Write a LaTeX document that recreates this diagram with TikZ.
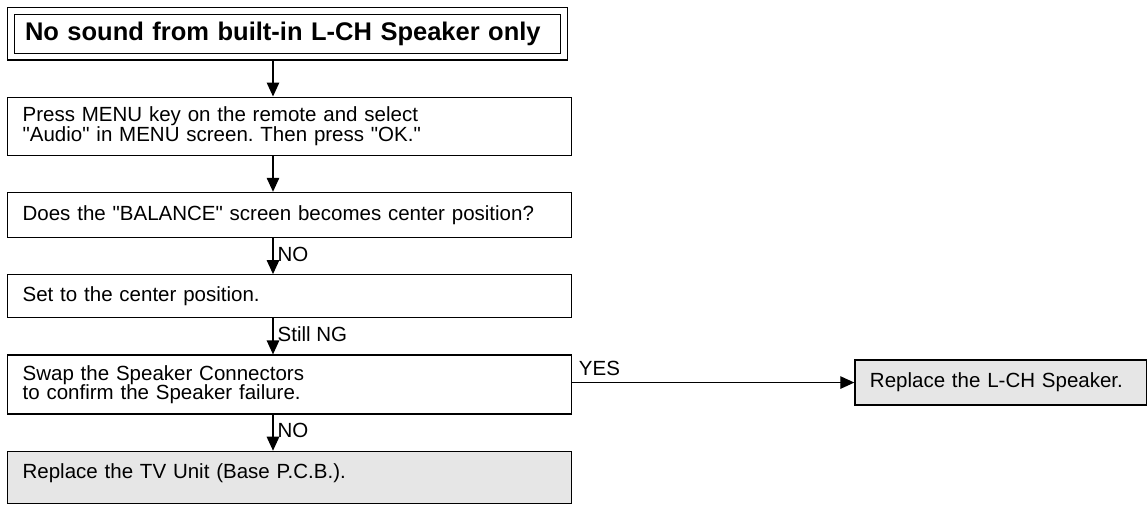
\documentclass[tikz,border=0pt]{standalone}
\usepackage{fontspec}
\setmainfont{Liberation Sans}[Ligatures=TeXOff]
\usepackage{tikz}
\usetikzlibrary{arrows.meta, positioning}
\definecolor{boxgray}{RGB}{230,230,230}
\newcommand{\flowfont}{\fontsize{20.5}{19.5}\selectfont\lineskiplimit=-20pt\relax}
\frenchspacing

\begin{document}
\begin{tikzpicture}[
    x=1pt, y=1pt,
    node distance=36pt,
    box/.style={rectangle, draw, line width=1.3pt, fill=white, text width=534pt,
                inner xsep=15pt, inner ysep=9pt, align=left, font=\flowfont},
    result/.style={box, fill=boxgray},
    titlebox/.style={rectangle, draw, line width=1.3pt, double, double distance=5.4pt,
                  outer sep=4pt, text width=525pt, inner xsep=14pt, minimum height=45.5pt,
                  align=left, font=\fontsize{25.5}{28}\selectfont\bfseries},
    arr/.style={-{Triangle[length=14pt, width=12.5pt]}, line width=1.3pt},
    lbl/.style={font=\flowfont, inner sep=2pt}
]
\useasboundingbox (0,0) rectangle (1147,-504);
\node[titlebox, anchor=north west] (title) at (7,-7) {No sound from built-in L-CH Speaker only};
\node[box, minimum height=58pt, below=of title.south west, anchor=north west] (menu) {Press MENU key on the remote and select\\"Audio" in MENU screen. Then press "OK."};
\node[box, minimum height=45pt, below=of menu.south west, anchor=north west] (balance) {Does the "BALANCE" screen becomes center position?};
\node[box, minimum height=43pt, below=of balance.south west, anchor=north west] (setpos) {Set to the center position.};
\node[box, minimum height=59pt, below=of setpos.south west, anchor=north west] (swap) {Swap the Speaker Connectors\\to confirm the Speaker failure.};
\node[result, text width=262pt, minimum height=45pt, right=282pt of swap, yshift=2pt] (spk) {Replace the L-CH Speaker.};
\node[result, inner ysep=12pt, text depth=13pt, below=of swap.south west, anchor=north west] (tvunit) {Replace the TV Unit (Base P.C.B.).};

\coordinate (ax) at (273,0);
\draw[arr] (title.south -| ax) -- (menu.north -| ax);
\draw[arr] (menu.south -| ax) -- (balance.north -| ax);
\draw[arr] (balance.south -| ax) -- node[lbl, right, inner xsep=4pt, pos=.45]{NO} (setpos.north -| ax);
\draw[arr] (setpos.south -| ax) -- node[lbl, right, inner xsep=4pt, pos=.45]{Still NG} (swap.north -| ax);
\draw[arr] (swap.south -| ax) -- node[lbl, right, inner xsep=4pt, pos=.45]{NO} (tvunit.north -| ax);
\draw[arr] (swap.east |- spk.west) -- node[lbl, anchor=south west, pos=0, inner sep=6pt]{YES} (spk.west);
\end{tikzpicture}
\end{document}
